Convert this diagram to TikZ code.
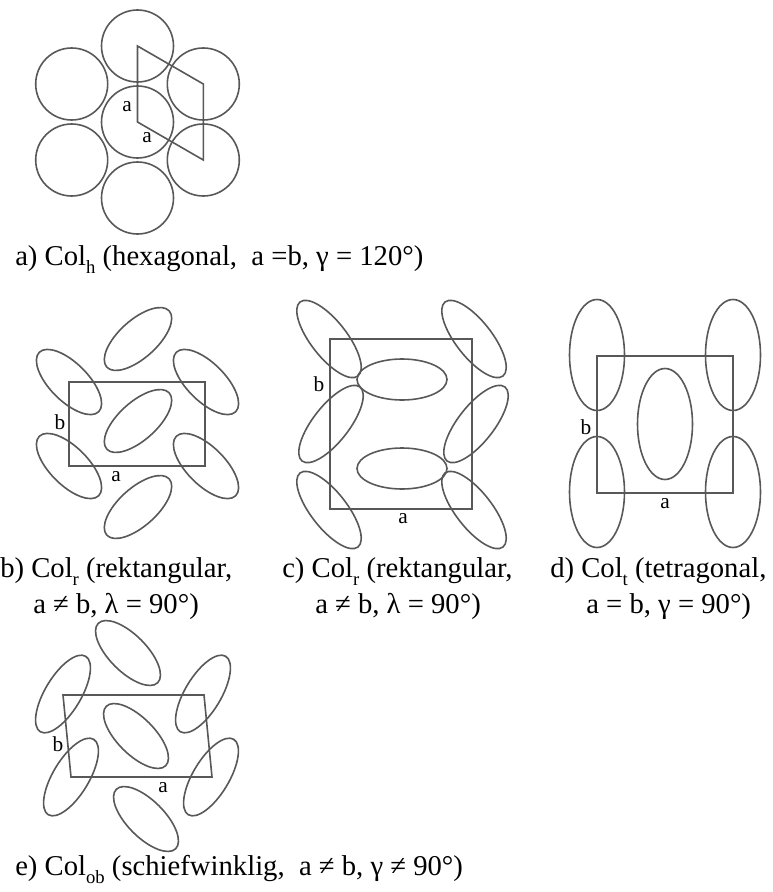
\documentclass[tikz,border=0pt]{standalone}
\usepackage{fontspec}
\setmainfont{Liberation Serif}
\definecolor{lc}{RGB}{88,88,88}
\newcommand\capfont{\fontsize{21.5pt}{26pt}\selectfont}
\newcommand\labfont{\fontsize{16pt}{18pt}\selectfont}
\newcommand\sbs[1]{\raisebox{-0.28em}{\fontsize{14pt}{14pt}\selectfont #1}}
\tikzset{
  ln/.style={draw=lc, line width=1.2pt},
  lab/.style={font=\labfont, inner sep=0pt},
  captxt/.style={font=\capfont, inner sep=0pt, anchor=base west},
}
\begin{document}
\begin{tikzpicture}[x=0.75pt,y=-0.75pt]
\useasboundingbox (0,0) rectangle (772,892);

% ---------- a) hexagonal ----------
\foreach \cx/\cy in {137.5/122, 137.5/46, 137.5/198, 71.7/84, 203.3/84, 71.7/160, 203.3/160}
  \draw[ln] (\cx,\cy) circle [radius=36];
\draw[ln] (137.5,122) -- (137.5,46) -- (203.3,84) -- (203.3,160) -- cycle;
\node[lab] (a1) at (127,107) {a};
\node[lab] (a2) at (147,138) {a};
\node[captxt] (capa) at (15,265) {a) Col\sbs{h} (hexagonal,~ a =b, γ = 120°)};

% ---------- b) rectangular ----------
\draw[ln] (69,382) rectangle (205,466);
\foreach \cx/\cy in {138/421, 138/339, 138/507}
  \draw[ln, rotate around={42:(\cx,\cy)}] (\cx,\cy) ellipse [x radius=42, y radius=19];
\foreach \cx/\cy in {69/382, 206/382, 69/466, 206/466}
  \draw[ln, rotate around={-45:(\cx,\cy)}] (\cx,\cy) ellipse [x radius=42, y radius=19];
\node[lab] (bb) at (60,422) {b};
\node[lab] (ba) at (116,477) {a};
\node[captxt] (capb1) at (0,577) {b) Col\sbs{r} (rektangular,};
\node[captxt] (capb2) at (33,613) {a ≠ b, λ = 90°)};

% ---------- c) rectangular ----------
\draw[ln] (330,339) rectangle (472,509);
\foreach \cx/\cy in {329/339, 474/339, 329/510, 474/510}
  \draw[ln, rotate around={-52:(\cx,\cy)}] (\cx,\cy) ellipse [x radius=47, y radius=18];
\foreach \cx/\cy in {331/424, 476/424}
  \draw[ln, rotate around={52:(\cx,\cy)}] (\cx,\cy) ellipse [x radius=47, y radius=18];
\draw[ln] (402,379.5) ellipse [x radius=45, y radius=20.5];
\draw[ln] (402,468.5) ellipse [x radius=45, y radius=20.5];
\node[lab] (cb) at (319,384) {b};
\node[lab] (ca) at (403,519) {a};
\node[captxt] (capc1) at (282,577) {c) Col\sbs{r} (rektangular,};
\node[captxt] (capc2) at (315,613) {a ≠ b, λ = 90°)};

% ---------- d) tetragonal ----------
\draw[ln] (597,356) rectangle (733,493);
\foreach \cx/\cy in {597/355, 733/355, 597/492, 733/492, 665/424}
  \draw[ln] (\cx,\cy) ellipse [x radius=27.5, y radius=55.5];
\node[lab] (db) at (586,427) {b};
\node[lab] (da) at (665,504) {a};
\node[captxt] (capd1) at (550,577) {d) Col\sbs{t} (tetragonal,};
\node[captxt] (capd2) at (586,613) {a = b, γ = 90°)};

% ---------- e) oblique ----------
\draw[ln] (63,695) -- (204,695) -- (212,777) -- (71,777) -- cycle;
\foreach \cx/\cy in {63/694, 203/694, 71/777, 211/777}
  \draw[ln, rotate around={59:(\cx,\cy)}] (\cx,\cy) ellipse [x radius=44, y radius=18];
\foreach \cx/\cy in {136/736, 128/653, 146/819}
  \draw[ln, rotate around={-45:(\cx,\cy)}] (\cx,\cy) ellipse [x radius=42, y radius=18.5];
\node[lab] (eb) at (58,744) {b};
\node[lab] (ea) at (163,788) {a};
\node[captxt] (cape) at (15,875) {e) Col\sbs{ob} (schiefwinklig,~ a ≠ b, γ ≠ 90°)};
\end{tikzpicture}
\end{document}
